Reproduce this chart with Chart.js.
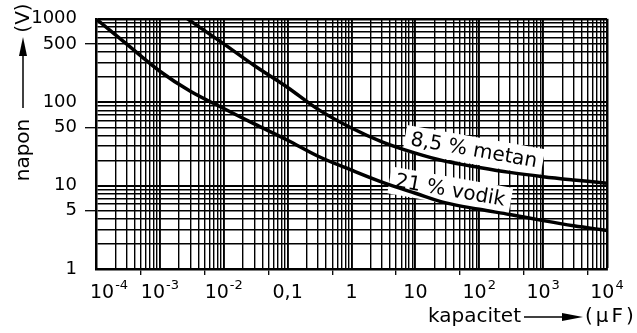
<!DOCTYPE html>
<html lang="hr">
<head>
    <meta charset="UTF-8">
    <title>napon - kapacitet</title>
    <script src="https://cdn.jsdelivr.net/npm/chart.js"></script>
    <style>
        html, body {
            margin: 0;
            padding: 0;
            background: #fff;
        }
        .wrap {
            width: 637px;
            height: 333px;
        }
    </style>
</head>
<body>
    <div class="wrap"><canvas id="chart" width="637" height="333"></canvas></div>

    <script>
        // kapacitet (uF) -> napon (V)
        const vodikC = [1e-4, 3e-4, 1e-3, 3e-3, 1e-2, 3e-2, 0.1, 0.3, 1, 3, 10, 30, 100, 300, 1000, 3000, 1e4];
        const vodikV = [1000, 500, 235, 135, 84, 55, 35, 22.5, 15.3, 11, 8.1, 6.2, 5.2, 4.5, 3.8, 3.3, 2.9];
        const metanC = [2.7e-3, 1e-2, 3e-2, 0.1, 0.3, 1, 3, 10, 30, 100, 300, 1000, 3000, 1e4];
        const metanV = [1000, 500, 275, 150, 82, 49, 33.5, 24.5, 19.5, 16.5, 14.4, 12.8, 11.7, 10.7];

        // axis labels
        const yTickValues = [1, 5, 10, 50, 100, 500, 1000];
        const yTickLabels = ['1', '5', '10', '50', '100', '500', '1000'];
        const xTickValues = [1e-4, 1e-3, 1e-2, 0.1, 1, 10, 100, 1000, 1e4];
        const xLabelBase = ['10', '10', '10', '0,1', '1', '10', '10', '10', '10'];
        const xLabelExp = ['-4', '-3', '-2', '', '', '', '2', '3', '4'];

        // curve names and where they sit (kapacitet, napon)
        const curveNames = ['8,5 % metan', '21 % vodik'];
        const curveNameAt = [[82, 26], [35, 8.6]];

        const FONT = '"DejaVu Sans", sans-serif';

        function logTicks(minExp, maxExp) {
            const t = [];
            for (let e = minExp; e < maxExp; e++) {
                for (let m = 1; m <= 9; m++) t.push({ value: m * Math.pow(10, e) });
            }
            t.push({ value: Math.pow(10, maxExp) });
            return t;
        }

        function mantissa(v) {
            return Math.round(v / Math.pow(10, Math.floor(Math.log10(v) + 1e-9)));
        }

        function sameValue(a, b) {
            return Math.abs(a / b - 1) < 1e-6;
        }

        const toPoints = (xs, ys) => xs.map((x, i) => ({ x: x, y: ys[i] }));

        // labels, titles, white boxes behind the curve names
        const paperPlugin = {
            id: 'paper',
            beforeDatasetsDraw(chart) {
                const ctx = chart.ctx;
                const xs = chart.scales.x, ys = chart.scales.y;
                ctx.save();
                ctx.font = '20px ' + FONT;
                const boxes = curveNames.map((name, i) => ({
                    name: name,
                    px: xs.getPixelForValue(curveNameAt[i][0]),
                    py: ys.getPixelForValue(curveNameAt[i][1]),
                    w: ctx.measureText(name).width
                }));
                boxes.forEach(b => {
                    ctx.save();
                    ctx.translate(b.px, b.py);
                    ctx.rotate(10 * Math.PI / 180);
                    ctx.fillStyle = '#fff';
                    ctx.fillRect(-b.w / 2 - 6, -14, b.w + 12, 27);
                    ctx.restore();
                });
                boxes.forEach(b => {
                    ctx.save();
                    ctx.translate(b.px, b.py);
                    ctx.rotate(10 * Math.PI / 180);
                    ctx.fillStyle = '#000';
                    ctx.textAlign = 'center';
                    ctx.textBaseline = 'middle';
                    ctx.fillText(b.name, 0, 0);
                    ctx.restore();
                });
                ctx.restore();
            },
            afterDraw(chart) {
                const ctx = chart.ctx;
                const xs = chart.scales.x;
                const area = chart.chartArea;
                ctx.save();
                ctx.fillStyle = '#000';
                ctx.strokeStyle = '#000';
                ctx.textBaseline = 'alphabetic';

                // x tick labels with exponents
                const baseY = area.bottom + 29;
                xTickValues.forEach((v, i) => {
                    const px = xs.getPixelForValue(v);
                    ctx.font = '19px ' + FONT;
                    const wb = ctx.measureText(xLabelBase[i]).width;
                    ctx.font = '13px ' + FONT;
                    const we = xLabelExp[i] ? ctx.measureText(xLabelExp[i]).width + 1 : 0;
                    const left = i === 0 ? px - 6 : px - (wb + we) / 2;
                    ctx.textAlign = 'left';
                    ctx.font = '19px ' + FONT;
                    ctx.fillText(xLabelBase[i], left, baseY);
                    if (xLabelExp[i]) {
                        ctx.font = '13px ' + FONT;
                        ctx.fillText(xLabelExp[i], left + wb + 1, baseY - 9);
                    }
                });

                // x title: kapacitet ----> (uF)
                const ty = 322;
                ctx.font = '20px ' + FONT;
                ctx.textAlign = 'left';
                ctx.fillText('kapacitet', 428, ty);
                ctx.lineWidth = 1.5;
                ctx.beginPath();
                ctx.moveTo(524, ty - 5);
                ctx.lineTo(568, ty - 5);
                ctx.stroke();
                ctx.beginPath();
                ctx.moveTo(583, ty - 5);
                ctx.lineTo(562, ty - 9);
                ctx.lineTo(562, ty - 1);
                ctx.closePath();
                ctx.fill();
                if ('letterSpacing' in ctx) ctx.letterSpacing = '3px';
                ctx.fillText('(\u03bcF)', 585, ty);
                if ('letterSpacing' in ctx) ctx.letterSpacing = '0px';

                // y title: napon ----> (V), turned up
                const tx = 29;
                ctx.save();
                ctx.translate(tx, 150);
                ctx.rotate(-Math.PI / 2);
                ctx.textAlign = 'center';
                ctx.fillText('napon', 0, 0);
                ctx.restore();
                ctx.save();
                ctx.translate(tx, 18);
                ctx.rotate(-Math.PI / 2);
                ctx.textAlign = 'center';
                ctx.fillText('(V)', 0, 0);
                ctx.restore();
                const ax = tx - 6;
                ctx.beginPath();
                ctx.moveTo(ax, 108);
                ctx.lineTo(ax, 50);
                ctx.stroke();
                ctx.beginPath();
                ctx.moveTo(ax, 37);
                ctx.lineTo(ax - 4, 56);
                ctx.lineTo(ax + 4, 56);
                ctx.closePath();
                ctx.fill();

                ctx.restore();
            }
        };

        const ctx = document.getElementById('chart').getContext('2d');
        new Chart(ctx, {
            type: 'scatter',
            data: {
                datasets: [
                    {
                        label: '21 % vodik',
                        data: toPoints(vodikC, vodikV),
                        showLine: true,
                        borderColor: '#000',
                        borderWidth: 3.5,
                        pointRadius: 0,
                        tension: 0.35
                    },
                    {
                        label: '8,5 % metan',
                        data: toPoints(metanC, metanV),
                        showLine: true,
                        borderColor: '#000',
                        borderWidth: 3.5,
                        pointRadius: 0,
                        tension: 0.35
                    }
                ]
            },
            options: {
                responsive: false,
                animation: false,
                devicePixelRatio: 1,
                layout: {
                    padding: { top: 16, right: 30, bottom: 0, left: 0 }
                },
                plugins: {
                    legend: { display: false },
                    tooltip: { enabled: false }
                },
                scales: {
                    x: {
                        type: 'logarithmic',
                        min: 1e-4,
                        max: 1e4,
                        afterBuildTicks: s => { s.ticks = logTicks(-4, 4); },
                        afterFit: s => { s.height = 64; },
                        ticks: {
                            autoSkip: false,
                            maxRotation: 0,
                            callback: () => ''
                        },
                        grid: {
                            color: '#000',
                            lineWidth: c => (c.tick && sameValue(c.tick.value, 1e4)) ? 2.5 : (mantissa(c.tick.value) === 1 ? 1.9 : 1.4),
                            drawTicks: true,
                            tickLength: 6,
                            tickWidth: 1.3,
                            tickColor: c => (c.tick && mantissa(c.tick.value) === 5) ? '#000' : 'rgba(0,0,0,0)'
                        },
                        border: { display: true, color: '#000', width: 2.5 }
                    },
                    y: {
                        type: 'logarithmic',
                        min: 1,
                        max: 1000,
                        afterBuildTicks: s => { s.ticks = logTicks(0, 3); },
                        afterFit: s => { s.width = 96; },
                        ticks: {
                            autoSkip: false,
                            padding: 8,
                            color: '#000',
                            font: { family: 'DejaVu Sans', size: 18 },
                            callback: v => {
                                const i = yTickValues.findIndex(t => sameValue(t, v));
                                return i >= 0 ? yTickLabels[i] : '';
                            }
                        },
                        grid: {
                            color: '#000',
                            lineWidth: c => (c.tick && sameValue(c.tick.value, 1000)) ? 2.5 : (mantissa(c.tick.value) === 1 ? 1.9 : 1.4),
                            drawTicks: true,
                            tickLength: 11,
                            tickWidth: 1.3,
                            tickColor: c => (c.tick && mantissa(c.tick.value) === 5) ? '#000' : 'rgba(0,0,0,0)'
                        },
                        border: { display: true, color: '#000', width: 2.5 }
                    }
                }
            },
            plugins: [paperPlugin]
        });
    </script>
</body>
</html>
